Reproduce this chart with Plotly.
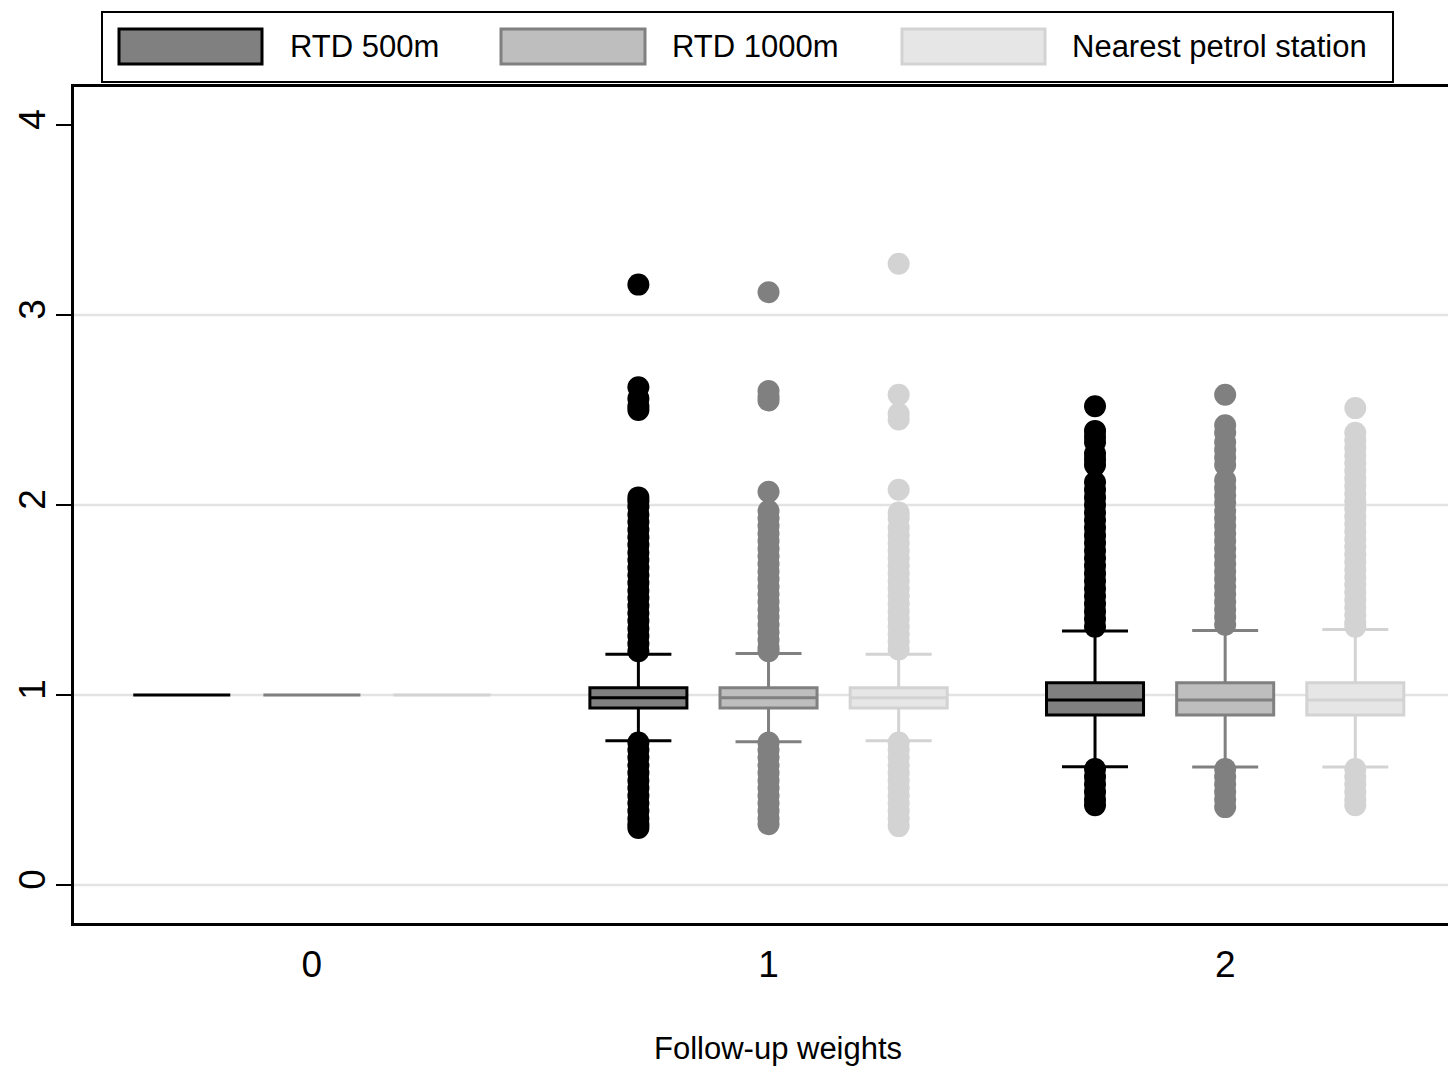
import plotly.graph_objects as go

# ---------------- data ----------------
GROUPS = [0, 1, 2]
X_TICK_LABELS = ["0", "1", "2"]
Y_TICKS = [0, 1, 2, 3, 4]
GRID_Y = [0, 1, 2, 3]
SERIES = ["RTD 500m", "RTD 1000m", "Nearest petrol station"]
X_TITLE = "Follow-up weights"

# box summaries per series, for groups 0, 1, 2
Q1_500 = [1.0, 0.932, 0.895]
MED_500 = [1.0, 0.986, 0.974]
Q3_500 = [1.0, 1.038, 1.065]
LOW_500 = [1.0, 0.759, 0.623]
UPP_500 = [1.0, 1.214, 1.337]

Q1_1000 = [1.0, 0.932, 0.895]
MED_1000 = [1.0, 0.986, 0.974]
Q3_1000 = [1.0, 1.038, 1.065]
LOW_1000 = [1.0, 0.754, 0.621]
UPP_1000 = [1.0, 1.219, 1.340]

Q1_NEAR = [1.0, 0.932, 0.895]
MED_NEAR = [1.0, 0.986, 0.974]
Q3_NEAR = [1.0, 1.038, 1.065]
LOW_NEAR = [1.0, 0.759, 0.621]
UPP_NEAR = [1.0, 1.214, 1.345]

# outliers, group 1 and group 2
OUT_500_G1 = [3.16, 2.62, 2.56, 2.52, 2.50, 2.04, 2.02, 1.99, 1.95, 1.91, 1.87,
              1.83, 1.79, 1.75, 1.71, 1.67, 1.63, 1.59, 1.55, 1.51, 1.47, 1.43,
              1.39, 1.35, 1.31, 1.27, 1.23,
              0.75, 0.71, 0.67, 0.63, 0.59, 0.55, 0.51, 0.47, 0.43, 0.39, 0.35,
              0.32, 0.30]
OUT_500_G2 = [2.52, 2.39, 2.36, 2.33, 2.27, 2.24, 2.21, 2.12, 2.08, 2.04, 2.00,
              1.96, 1.92, 1.88, 1.84, 1.80, 1.76, 1.72, 1.68, 1.64, 1.60, 1.56,
              1.52, 1.48, 1.44, 1.40, 1.36,
              0.61, 0.57, 0.53, 0.49, 0.45, 0.42]

OUT_1000_G1 = [3.12, 2.60, 2.57, 2.55, 2.07, 1.97, 1.93, 1.89, 1.85, 1.81, 1.77,
               1.73, 1.69, 1.65, 1.61, 1.57, 1.53, 1.49, 1.45, 1.41, 1.37, 1.33,
               1.29, 1.25, 1.23,
               0.75, 0.71, 0.67, 0.63, 0.59, 0.55, 0.51, 0.47, 0.43, 0.39, 0.35,
               0.32]
OUT_1000_G2 = [2.58, 2.42, 2.38, 2.33, 2.29, 2.25, 2.21, 2.13, 2.09, 2.05, 2.01,
               1.97, 1.93, 1.89, 1.85, 1.81, 1.77, 1.73, 1.69, 1.65, 1.61, 1.57,
               1.53, 1.49, 1.45, 1.41, 1.37,
               0.61, 0.57, 0.53, 0.49, 0.45, 0.41]

OUT_NEAR_G1 = [3.27, 2.58, 2.48, 2.45, 2.08, 1.96, 1.93, 1.88, 1.84, 1.80, 1.76,
               1.72, 1.68, 1.64, 1.60, 1.56, 1.52, 1.48, 1.44, 1.40, 1.36, 1.32,
               1.28, 1.24,
               0.75, 0.71, 0.67, 0.63, 0.59, 0.55, 0.51, 0.47, 0.43, 0.39, 0.35,
               0.31]
OUT_NEAR_G2 = [2.51, 2.38, 2.34, 2.30, 2.26, 2.22, 2.18, 2.14, 2.10, 2.06, 2.02,
               1.98, 1.94, 1.90, 1.86, 1.82, 1.78, 1.74, 1.70, 1.66, 1.62, 1.58,
               1.54, 1.50, 1.46, 1.42, 1.38, 1.36,
               0.61, 0.57, 0.53, 0.49, 0.45, 0.42]

# ---------------- style ----------------
OFFSETS = [-0.285, 0.0, 0.285]
BOX_WIDTH = 0.2125
FILLS = ["#808080", "#bebebe", "#e6e6e6"]
LINES = ["#000000", "#808080", "#d3d3d3"]
MARKERS = ["#000000", "#808080", "#d3d3d3"]
FONT = "Liberation Sans, Arial, Helvetica, sans-serif"

W, H = 1448, 1067
L, R, T, B = 74, 0, 87, 144
PW, PH = W - L - R, H - T - B


def px(xp):
    return (xp - L) / PW


def py(yp):
    return (H - B - yp) / PH


stats = [
    (Q1_500, MED_500, Q3_500, LOW_500, UPP_500, OUT_500_G1, OUT_500_G2),
    (Q1_1000, MED_1000, Q3_1000, LOW_1000, UPP_1000, OUT_1000_G1, OUT_1000_G2),
    (Q1_NEAR, MED_NEAR, Q3_NEAR, LOW_NEAR, UPP_NEAR, OUT_NEAR_G1, OUT_NEAR_G2),
]

fig = go.Figure()

for i, (q1, med, q3, lo, up, o1, o2) in enumerate(stats):
    off = OFFSETS[i]
    xs = [1 + off] * len(o1) + [2 + off] * len(o2)
    fig.add_trace(go.Scatter(
        x=xs, y=o1 + o2, mode="markers",
        marker=dict(size=22, color=MARKERS[i], line=dict(width=0)),
        showlegend=False, hoverinfo="skip",
    ))
    fig.add_trace(go.Box(
        x=[g + off for g in GROUPS], q1=q1, median=med, q3=q3,
        lowerfence=lo, upperfence=up,
        width=BOX_WIDTH, whiskerwidth=0.68,
        fillcolor=FILLS[i], line=dict(color=LINES[i], width=3),
        boxpoints=False, name=SERIES[i], showlegend=False,
    ))

# gridlines
for gy in GRID_Y:
    fig.add_shape(type="line", xref="paper", yref="y", x0=0, x1=1, y0=gy, y1=gy,
                  line=dict(color="#e3e3e3", width=2.5), layer="below")

# custom legend
fig.add_shape(type="rect", xref="paper", yref="paper",
              x0=px(102), x1=px(1393), y0=py(82), y1=py(12),
              line=dict(color="#000000", width=2), fillcolor="white")
SW_X = [(119, 262), (501, 645), (902, 1045)]
TXT_X = [288, 670, 1070]
for i, name in enumerate(SERIES):
    x0, x1 = SW_X[i]
    fig.add_shape(type="rect", xref="paper", yref="paper",
                  x0=px(x0), x1=px(x1), y0=py(64), y1=py(29),
                  line=dict(color=LINES[i], width=3), fillcolor=FILLS[i])
    fig.add_annotation(xref="paper", yref="paper", x=px(TXT_X[i]), y=py(47),
                       text=name, showarrow=False, xanchor="left", yanchor="middle",
                       font=dict(family=FONT, size=31, color="#000000"))

# x-axis title
fig.add_annotation(xref="paper", yref="paper", x=px(778), y=py(1048),
                   text=X_TITLE, showarrow=False, xanchor="center", yanchor="middle",
                   font=dict(family=FONT, size=31, color="#000000"))

fig.update_layout(
    width=W, height=H,
    margin=dict(l=L, r=R, t=T, b=B, pad=0),
    paper_bgcolor="white", plot_bgcolor="white",
    font=dict(family=FONT, color="#000000"),
    boxmode="overlay",
    xaxis=dict(
        range=[-0.521, 2.488], tickvals=GROUPS, ticktext=X_TICK_LABELS,
        ticks="", showgrid=False, zeroline=False,
        showline=True, linecolor="#000000", linewidth=2.5, mirror=True,
        tickfont=dict(size=37), ticklabelstandoff=7,
    ),
    yaxis=dict(
        range=[-0.2, 4.2], tickvals=Y_TICKS, tickangle=-90,
        ticks="outside", ticklen=15, tickwidth=2, tickcolor="#000000",
        showgrid=False, zeroline=False,
        showline=True, linecolor="#000000", linewidth=2.5,
        tickfont=dict(size=37), ticklabelstandoff=-4,
    ),
)

fig.write_html(
    "out.html",
    config={"displayModeBar": False},
    post_script="document.body.style.margin='0';document.body.style.overflow='hidden';",
)
